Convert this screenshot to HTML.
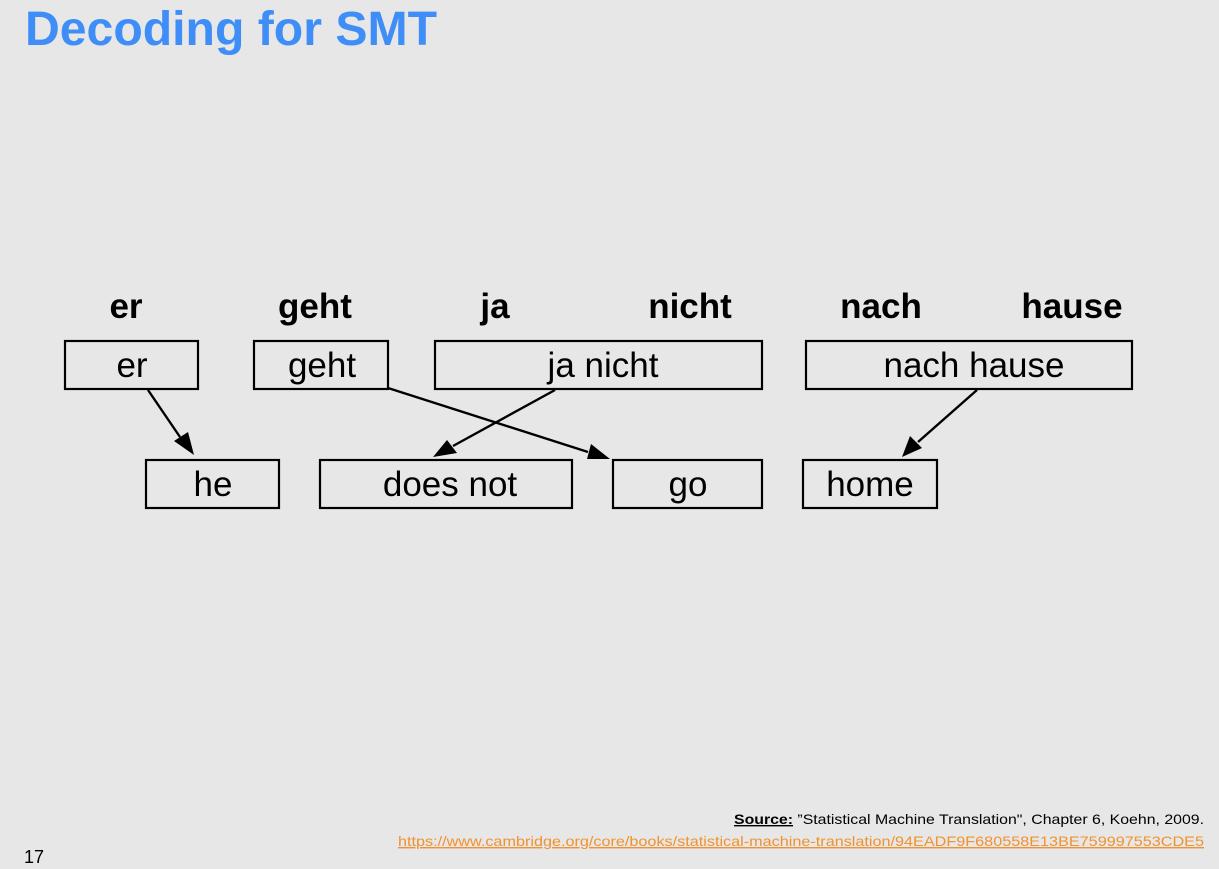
<!DOCTYPE html>
<html><head><meta charset="utf-8"><style>
html,body{margin:0;padding:0;background:#e7e7e7;}
svg{display:block}
</style></head><body>
<svg width="1219" height="869" viewBox="0 0 1219 869" xmlns="http://www.w3.org/2000/svg">
<rect width="1219" height="869" fill="#e7e7e7"/>
<text x="25" y="45" font-family="Liberation Sans, sans-serif" font-weight="bold" font-size="48" fill="#3f8ef8" textLength="412" lengthAdjust="spacingAndGlyphs">Decoding for SMT</text>
<g font-family="Liberation Sans, sans-serif" font-weight="bold" font-size="35" fill="#000" text-anchor="middle">
<text x="126" y="318">er</text>
<text x="315" y="318">geht</text>
<text x="495" y="318">ja</text>
<text x="690" y="318">nicht</text>
<text x="881" y="318">nach</text>
<text x="1072" y="318">hause</text>
</g>
<g fill="none" stroke="#000" stroke-width="2.2">
<rect x="65" y="341" width="133" height="48"/>
<rect x="254" y="341" width="134" height="48"/>
<rect x="435" y="341" width="327" height="48"/>
<rect x="806" y="341" width="326" height="48"/>
<rect x="146" y="460" width="133" height="48"/>
<rect x="320" y="460" width="252" height="48"/>
<rect x="613" y="460" width="149" height="48"/>
<rect x="803" y="460" width="134" height="48"/>
</g>
<g font-family="Liberation Sans, sans-serif" font-size="35" fill="#000" text-anchor="middle">
<text x="132" y="377">er</text>
<text x="322" y="377">geht</text>
<text x="603" y="377">ja nicht</text>
<text x="974" y="377">nach hause</text>
<text x="213" y="496">he</text>
<text x="450" y="496">does not</text>
<text x="688" y="496">go</text>
<text x="870" y="496">home</text>
</g>
<g stroke="#000" stroke-width="2.4" fill="none">
<path d="M148,390 L180,437"/>
<path d="M388,388 L588,452"/>
<path d="M555,390 L453,446"/>
<path d="M977,390 L918,442"/>
</g>
<g fill="#000">
<polygon points="194,455 174,441 188,432"/>
<polygon points="610,459 587,459 591,444"/>
<polygon points="433,457 447,440 457,453"/>
<polygon points="902,457 910,436 922,448"/>
</g>
<text x="1204" y="824" font-family="Liberation Sans, sans-serif" font-size="14" fill="#000" text-anchor="end" textLength="470" lengthAdjust="spacingAndGlyphs"><tspan font-weight="bold" text-decoration="underline">Source:</tspan> ”Statistical Machine Translation", Chapter 6, Koehn, 2009.</text>
<text x="1204" y="846" font-family="Liberation Sans, sans-serif" font-size="14" fill="#f0922f" text-anchor="end" textLength="806" lengthAdjust="spacingAndGlyphs" text-decoration="underline">https://www.cambridge.org/core/books/statistical-machine-translation/94EADF9F680558E13BE759997553CDE5</text>
<text x="24" y="863" font-family="Liberation Sans, sans-serif" font-size="18" fill="#000">17</text>
</svg>
</body></html>
